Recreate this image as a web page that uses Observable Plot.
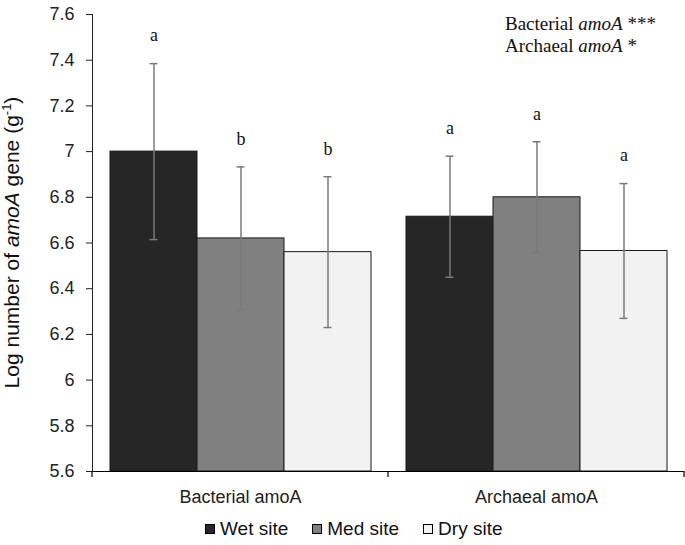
<!DOCTYPE html>
<html><head><meta charset="utf-8">
<script src="https://cdn.jsdelivr.net/npm/d3@7"></script>
<script src="https://cdn.jsdelivr.net/npm/@observablehq/plot@0.6"></script>
<style>
body{margin:0;background:#fff;font-family:"Liberation Sans",Arial,sans-serif;}
#wrap{position:relative;width:685px;height:545px;overflow:hidden;}
#legend{position:absolute;left:205px;top:518px;display:flex;align-items:center;font-size:19px;color:#111;white-space:nowrap;}
#legend .item{display:flex;align-items:center;margin-right:24px;}
#legend .sw{width:8px;height:8px;border:1px solid #000;margin-right:5px;}
</style></head><body><div id="wrap"></div>
<script>
const groups = ["Bacterial amoA", "Archaeal amoA"];
const sites = ["Wet site", "Med site", "Dry site"];
const means = [[7.00, 6.62, 6.56], [6.715, 6.80, 6.565]];
const errors = [[0.385, 0.313, 0.33], [0.265, 0.243, 0.295]];
const letters = [["a", "b", "b"], ["a", "a", "a"]];
const yDomain = [5.6, 7.6];
const yTicks = [5.6, 5.8, 6.0, 6.2, 6.4, 6.6, 6.8, 7.0, 7.2, 7.4, 7.6];
const siteColors = ["#262626", "#808080", "#f2f2f2"];
const annotations = [["Bacterial ", "amoA", " ***"], ["Archaeal ", "amoA", " *"]];

const rows = groups.flatMap((g, i) => sites.map((s, j) => ({
  group: g, site: s, mean: means[i][j],
  lo: means[i][j] - errors[i][j], hi: means[i][j] + errors[i][j],
  letter: letters[i][j]
})));

const W = 685, H = 510, ML = 92, MR = 1, MT = 14, MB = 39;
const errColor = "#7a7a7a";

const plot = Plot.plot({
  width: W, height: H, marginLeft: ML, marginRight: MR, marginTop: MT, marginBottom: MB,
  style: {fontFamily: "'Liberation Sans', Arial, sans-serif", fontSize: "18px", color: "#222", background: "#fff"},
  facet: {data: rows, x: "group"},
  fx: {domain: groups, padding: 0, label: null, tickSize: 0, tickPadding: 19, axis: "bottom"},
  x: {domain: sites, paddingInner: 0, paddingOuter: 0.19, axis: null},
  y: {domain: yDomain, ticks: yTicks, tickFormat: d => String(+d.toFixed(1)), tickSize: 6, tickPadding: 12, line: true, label: null},
  color: {domain: sites, range: siteColors},
  marks: [
    Plot.barY(rows, {x: "site", y1: yDomain[0], y2: "mean", fill: "site", stroke: "#1a1a1a", strokeWidth: 1}),
    Plot.ruleX(rows, {x: "site", y1: "lo", y2: "hi", stroke: errColor, strokeWidth: 1.5}),
    Plot.tickY(rows, {x: "site", y: "lo", stroke: errColor, strokeWidth: 1.5, insetLeft: 39.5, insetRight: 39.5}),
    Plot.tickY(rows, {x: "site", y: "hi", stroke: errColor, strokeWidth: 1.5, insetLeft: 39.5, insetRight: 39.5}),
    Plot.text(rows, {x: "site", y: "hi", text: "letter", dy: -28, fontFamily: "'Liberation Serif', 'Times New Roman', serif", fontSize: 18, fill: "#111"}),
    Plot.ruleY([yDomain[0]], {stroke: "#000", strokeWidth: 1.2})
  ]
});

const wrap = document.getElementById("wrap");
wrap.appendChild(plot);

// Excel-style category boundary ticks, derived from the fx scale
const svg = d3.select(plot);
let fxRange = [ML, W - MR];
try { const s = plot.scale("fx"); if (s && s.range) fxRange = s.range; } catch (e) {}
let yRange = [H - MB, MT];
try { const s = plot.scale("y"); if (s && s.range) yRange = s.range; } catch (e) {}
const band = d3.scaleBand(groups, fxRange).padding(0);
const yBase = Math.max(yRange[0], yRange[1]);
const bounds = [...groups.map(g => band(g)), band(groups[groups.length - 1]) + band.bandwidth()];
svg.append("g").selectAll("line").data(bounds).join("line")
  .attr("x1", d => d).attr("x2", d => d)
  .attr("y1", yBase).attr("y2", yBase + 6)
  .attr("stroke", "#000").attr("stroke-width", 1.2);

// y-axis title with italic gene name and superscript
const yMid = (yRange[0] + yRange[1]) / 2;
const yl = svg.append("text")
  .attr("transform", `translate(19,${yMid}) rotate(-90)`)
  .attr("text-anchor", "middle")
  .attr("font-family", "'Liberation Sans', Arial, sans-serif")
  .attr("font-size", 21).attr("fill", "#111");
yl.append("tspan").text("Log number of ");
yl.append("tspan").attr("font-style", "italic").text("amoA");
yl.append("tspan").text(" gene (g");
yl.append("tspan").attr("font-size", 13).attr("dy", -8).text("-1");
yl.append("tspan").attr("dy", 8).text(")");

// top-right significance annotation
const ann = svg.append("g")
  .attr("font-family", "'Liberation Serif', 'Times New Roman', serif")
  .attr("text-anchor", "start")
  .attr("font-size", 19).attr("fill", "#111");
annotations.forEach((parts, i) => {
  const t = ann.append("text").attr("x", 505).attr("y", 30 + i * 22);
  t.append("tspan").text(parts[0]);
  t.append("tspan").attr("font-style", "italic").text(parts[1]);
  t.append("tspan").text(parts[2]);
});

// legend
const leg = document.createElement("div");
leg.id = "legend";
sites.forEach((s, i) => {
  const it = document.createElement("div"); it.className = "item";
  const sw = document.createElement("span"); sw.className = "sw"; sw.style.background = siteColors[i];
  const lb = document.createElement("span"); lb.textContent = s;
  it.appendChild(sw); it.appendChild(lb); leg.appendChild(it);
});
wrap.appendChild(leg);
</script>
</body></html>
